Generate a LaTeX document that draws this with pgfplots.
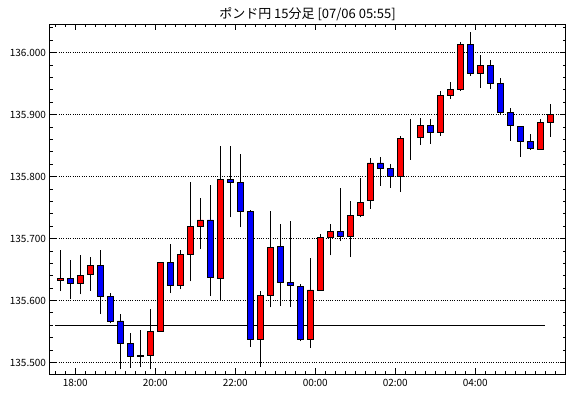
\documentclass[border=0pt]{standalone}
\usepackage{fontspec}
\setmainfont{Noto Sans CJK JP}
\usepackage{pgfplots}
\usepackage{pgfplotstable}
\pgfplotsset{compat=1.18}
\definecolor{upred}{RGB}{255,0,0}
\definecolor{dnblue}{RGB}{0,0,255}

\pgfplotstableread{
k open high low close
0 135.632 135.681 135.615 135.635
1 135.635 135.665 135.602 135.628
2 135.628 135.673 135.610 135.641
3 135.642 135.671 135.615 135.656
4 135.656 135.681 135.578 135.606
5 135.606 135.612 135.563 135.567
6 135.567 135.578 135.489 135.530
7 135.530 135.547 135.491 135.509
8 135.509 135.552 135.492 135.512
9 135.512 135.587 135.489 135.550
10 135.550 135.662 135.550 135.662
11 135.662 135.691 135.612 135.625
12 135.625 135.681 135.618 135.674
13 135.674 135.792 135.631 135.720
14 135.720 135.765 135.683 135.730
15 135.730 135.787 135.607 135.637
16 135.635 135.850 135.600 135.796
17 135.796 135.850 135.734 135.790
18 135.790 135.837 135.718 135.743
19 135.743 135.746 135.525 135.537
20 135.537 135.616 135.493 135.608
21 135.608 135.745 135.589 135.685
22 135.687 135.724 135.591 135.629
23 135.629 135.729 135.589 135.624
24 135.622 135.627 135.534 135.537
25 135.537 135.668 135.523 135.617
26 135.617 135.707 135.617 135.701
27 135.701 135.723 135.673 135.712
28 135.712 135.782 135.696 135.703
29 135.703 135.761 135.670 135.737
30 135.737 135.797 135.734 135.759
31 135.762 135.830 135.748 135.822
32 135.822 135.831 135.785 135.813
33 135.813 135.821 135.782 135.800
34 135.800 135.865 135.775 135.861
35 135.860 135.893 135.827 135.860
36 135.863 135.894 135.851 135.882
37 135.882 135.893 135.853 135.871
38 135.871 135.938 135.866 135.931
39 135.931 135.952 135.925 135.940
40 135.940 136.018 135.938 136.013
41 136.013 136.034 135.962 135.966
42 135.966 135.997 135.943 135.980
43 135.980 135.989 135.941 135.950
44 135.950 135.959 135.900 135.903
45 135.903 135.910 135.858 135.882
46 135.881 135.881 135.832 135.856
47 135.857 135.868 135.843 135.846
48 135.844 135.893 135.844 135.887
49 135.887 135.917 135.864 135.900
}\candles

\begin{document}
\begin{tikzpicture}
\useasboundingbox (-49.5pt,-23.5pt) rectangle (520.5pt,374.5pt);
\begin{axis}[
  at={(0pt,0pt)}, anchor=south west,
  scale only axis, width=516pt, height=350pt,
  xmin=-1.08, xmax=50.52, ymin=135.4806, ymax=136.0455,
  axis line style={black, line width=1pt},
  tick align=inside, tick pos=both,
  major tick length=6pt, minor tick length=3pt,
  every tick/.style={black, line width=0.9pt},
  xtick={1.5,9.5,17.5,25.5,33.5,41.5},
  xticklabels={18:00,20:00,22:00,00:00,02:00,04:00},
  minor xtick={-0.5,0.5,...,50.5},
  ytick={135.5,135.6,135.7,135.8,135.9,136.0},
  yticklabels={135.500,135.600,135.700,135.800,135.900,136.000},
  minor ytick={135.48,135.50,135.52,135.54,135.56,135.58,135.60,135.62,135.64,135.66,135.68,135.70,135.72,135.74,135.76,135.78,135.80,135.82,135.84,135.86,135.88,135.90,135.92,135.94,135.96,135.98,136.00,136.02,136.04},
  ymajorgrids,
  major grid style={black, line width=0.7pt, dash pattern=on 0.8pt off 1.5pt},
  tick label style={font=\fontsize{10}{12}\selectfont},
  xticklabel style={yshift=-1.5pt},
  /pgf/number format/assume math mode=true,
  title={ポンド円 15分足 [07/06 05:55]},
  title style={at={(axis description cs:0.5,1)}, anchor=center, yshift=4.5pt, font=\fontsize{13}{15}\selectfont},
]
\addplot[black, line width=1pt, forget plot] coordinates {(-0.5,135.559) (48.5,135.559)};
\addplot[draw=none, mark=none, forget plot,
  error bars/.cd, y dir=plus, y explicit, error mark=none,
  error bar style={draw=black, line width=1.2pt}]
  table[x=k, y=low, y error plus expr={\thisrow{high}-\thisrow{low}}] {\candles};
\end{axis}
\begin{axis}[
  at={(0pt,0pt)}, anchor=south west,
  scale only axis, width=516pt, height=350pt,
  xmin=-1.08, xmax=50.52, ymin=0.4806, ymax=1.0455,
  hide axis, ybar stacked, bar width=0.6,
]
\addplot[draw=none, fill=none] table[x=k, y expr={min(\thisrow{open},\thisrow{close})-135}] {\candles};
\addplot[draw=black, line width=0.9pt, fill=upred] table[x=k, y expr={max(\thisrow{close}-\thisrow{open},0)}] {\candles};
\addplot[draw=black, line width=0.9pt, fill=dnblue] table[x=k, y expr={max(\thisrow{open}-\thisrow{close},0)}] {\candles};
\end{axis}
\end{tikzpicture}
\end{document}
